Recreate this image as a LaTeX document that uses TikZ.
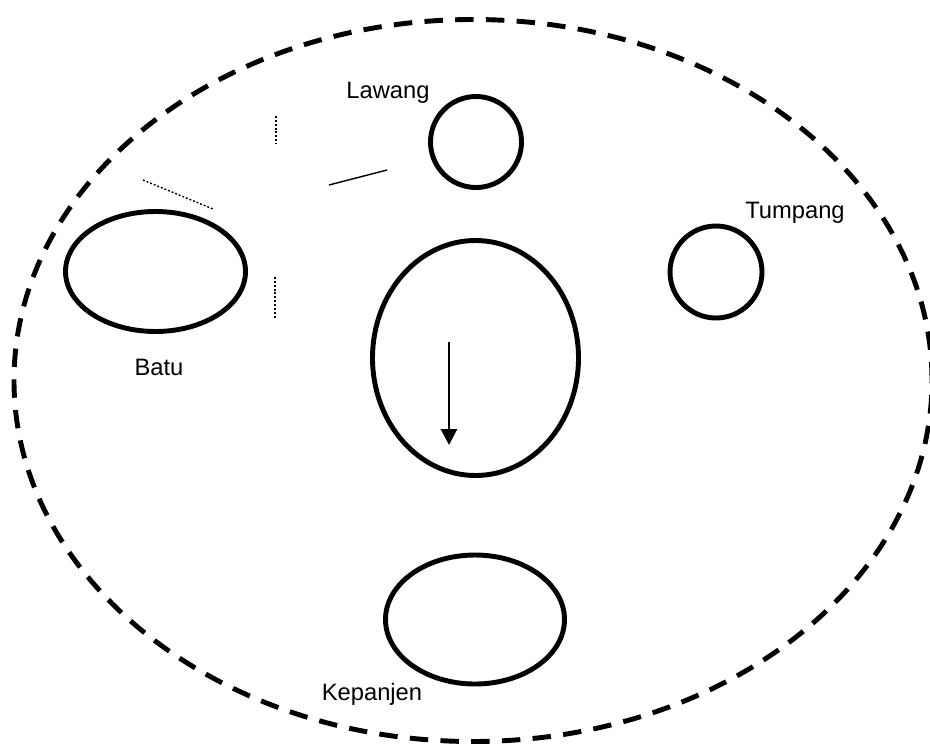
\documentclass[tikz,border=0pt]{standalone}
\usepackage{fontspec}
\setmainfont{Liberation Sans}
\usetikzlibrary{arrows.meta,shapes.geometric}
\definecolor{ink}{RGB}{0,0,0}
\tikzset{
  >={Triangle[length=9pt,width=9pt]},
  town/.style={ellipse,draw=ink,line width=2.8pt,inner sep=0pt,
    minimum width=#1},
  town/.default=1.82cm,
  region/.style={ellipse,draw=ink,line width=2.8pt,inner sep=0pt,
    dash pattern=on 10.5pt off 7pt},
  tag/.style={font=\fontsize{13.5pt}{15pt}\selectfont,text=ink,anchor=base},
  dotmark/.style={draw=ink,line width=0.8pt,dash pattern=on 1.1pt off 1.1pt},
  thinmark/.style={draw=ink,line width=0.8pt},
}
\begin{document}
\begin{tikzpicture}
        \useasboundingbox (0,0) rectangle (18.6,-14.92);
        % wilayah
        \node[region,minimum width=18.36cm,minimum height=14.44cm] (wilayah) at (9.46,-7.61) {};
        % kota-kota
        \node[town,minimum height=1.82cm] (lawang) at (9.52,-2.84) {};
        \node[town=1.84cm,minimum height=1.84cm] (tumpang) at (14.32,-5.44) {};
        \node[town=3.6cm,minimum height=2.4cm] (batu) at (3.11,-5.43) {};
        \node[town=4.12cm,minimum height=4.7cm] (pusat) at (9.51,-7.16) {};
        \node[town=3.58cm,minimum height=2.58cm] (kepanjen) at (9.5,-12.39) {};
        \node[tag] (lawang-tag) at (7.76,-1.96) {Lawang};
        \node[tag] (tumpang-tag) at (15.9,-4.36) {Tumpang};
        \node[tag] (batu-tag) at (3.18,-7.5) {Batu};
        \node[tag] (kepanjen-tag) at (7.44,-14.0) {Kepanjen};
        % arah
        \coordinate (arah-a) at (8.98,-6.84);
        \coordinate (arah-b) at (8.98,-8.9);
        \draw[->,line width=1.6pt,ink] (arah-a) -- (arah-b);
        % garis putus
        \foreach \n/\xa/\ya/\xb/\yb in {1/5.52/-2.32/5.52/-2.88,2/5.5/-5.54/5.5/-6.36,3/2.86/-3.6/4.26/-4.18}{
          \coordinate (dot\n-a) at (\xa,\ya);
          \coordinate (dot\n-b) at (\xb,\yb);
          \draw[dotmark] (dot\n-a) -- (dot\n-b);
        }
        \coordinate (garis-a) at (6.58,-3.7);
        \coordinate (garis-b) at (7.74,-3.4);
        \draw[thinmark] (garis-a) -- (garis-b);
      \end{tikzpicture}
\end{document}
